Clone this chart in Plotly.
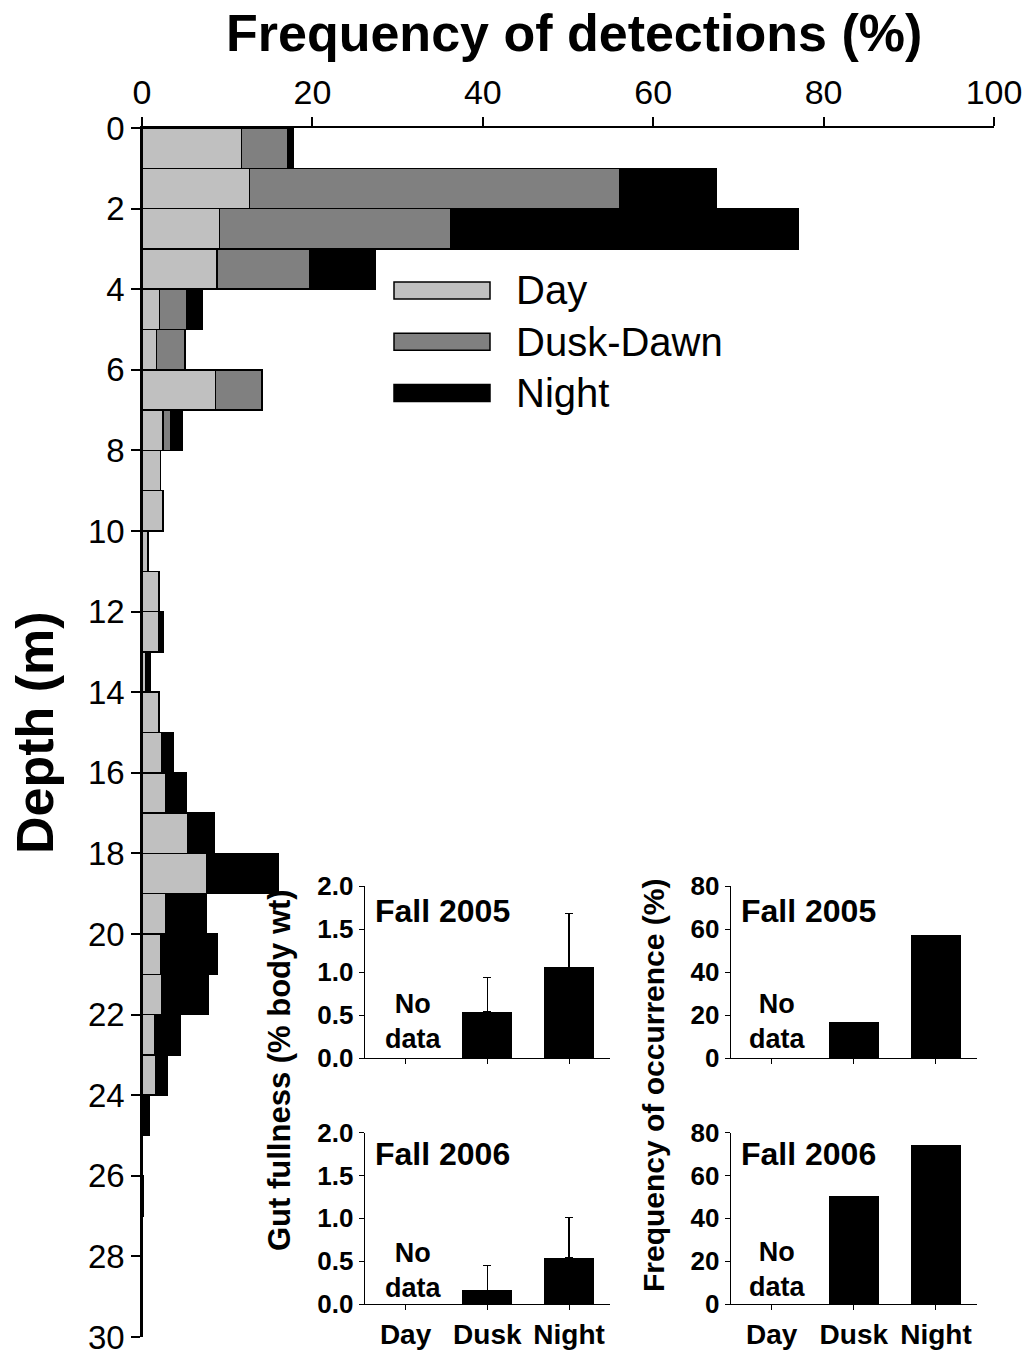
import plotly.graph_objects as go

W, H = 1027, 1354
OFF = 0

# ---------------- data ----------------
depth_bins = list(range(30))  # upper edge of each 1 m bin
day = [11.65, 12.6, 9.08, 8.8, 2.05, 1.73, 8.6, 2.46, 2.19, 2.46,
       0.7, 2.0, 2.0, 0.39, 2.0, 2.35, 2.78, 5.4, 7.59, 2.78,
       2.2, 2.35, 1.49, 1.62, 0, 0, 0, 0, 0, 0]
dusk_dawn = [5.41, 43.46, 27.12, 10.9, 3.25, 3.31, 5.47, 0.9, 0, 0,
             0, 0, 0, 0, 0, 0, 0, 0, 0, 0,
             0, 0, 0, 0, 0, 0, 0, 0, 0, 0]
night = [0.74, 11.39, 40.8, 7.7, 1.8, 0, 0, 1.34, 0, 0,
         0, 0, 0.54, 0.63, 0, 1.29, 2.42, 3.09, 8.41, 4.81,
         6.6, 5.4, 3.05, 1.33, 0.9, 0, 0.2, 0, 0, 0]
series_names = ["Day", "Dusk-Dawn", "Night"]
series_colors = ["#c0c0c0", "#808080", "#000000"]

x_ticks = [0, 20, 40, 60, 80, 100]
y_ticks = list(range(0, 31, 2))

inset_cats = ["Day", "Dusk", "Night"]
gut_2005 = [None, 0.534, 1.048]
gut_2005_err = [None, 0.40, 0.63]
gut_2006 = [None, 0.16, 0.537]
gut_2006_err = [None, 0.29, 0.47]
occ_2005 = [None, 16.7, 56.8]
occ_2006 = [None, 50.4, 74.2]

FONT = "Liberation Sans, Arial, sans-serif"


def px_x(p):
    return (p - OFF) / W


def px_y(p):
    return 1 - (p - OFF) / H


fig = go.Figure()

# ---------------- main stacked bars ----------------
ycent = [d + 0.5 for d in depth_bins]
for name, vals, col in zip(series_names, [day, dusk_dawn, night], series_colors):
    fig.add_trace(go.Bar(
        y=ycent, x=vals, orientation="h", name=name, width=1,
        marker=dict(color=col, line=dict(color="black", width=1.5)),
        xaxis="x", yaxis="y", showlegend=False,
    ))

# ---------------- insets ----------------
def inset_bar(xa, ya, vals, err=None):
    eb = None
    if err is not None:
        eb = dict(type="data", array=err, arrayminus=[0, 0, 0], symmetric=False,
                  color="black", thickness=1.3, width=4)
    fig.add_trace(go.Bar(
        x=inset_cats, y=vals, width=0.6, error_y=eb,
        marker=dict(color="black", line=dict(color="black", width=1)),
        xaxis=xa, yaxis=ya, showlegend=False,
    ))

inset_bar("x2", "y2", gut_2005, gut_2005_err)
inset_bar("x3", "y3", gut_2006, gut_2006_err)
inset_bar("x4", "y4", occ_2005)
inset_bar("x5", "y5", occ_2006)

main_xdom = [px_x(142), px_x(994)]
main_ydom = [px_y(1337), px_y(128)]
gut_xdom = [px_x(364.7), px_x(610)]
occ_xdom = [px_x(730.7), px_x(977)]
top_ydom = [px_y(1058), px_y(886)]
bot_ydom = [px_y(1304), px_y(1132.7)]

inset_tickfont = dict(family=FONT, size=26, color="black", weight="bold")

layout = dict(
    width=W, height=H,
    margin=dict(l=0, r=0, t=0, b=0, autoexpand=False),
    paper_bgcolor="white", plot_bgcolor="rgba(0,0,0,0)",
    barmode="stack",
    font=dict(family=FONT, color="black"),
    showlegend=False,
    xaxis=dict(domain=main_xdom, anchor="y", side="top", range=[0, 100],
               tickvals=x_ticks, ticks="outside", ticklen=9, tickwidth=1.5,
               tickcolor="black", showline=True, linecolor="black", linewidth=1.5,
               showgrid=False, zeroline=False, automargin=False,
               ticklabeloverflow="allow",
               tickfont=dict(family=FONT, size=34, color="black")),
    yaxis=dict(domain=main_ydom, anchor="x", range=[30, 0],
               tickvals=y_ticks, ticks="outside", ticklen=9, tickwidth=1.5,
               tickcolor="black", showline=True, linecolor="black", linewidth=1.5,
               showgrid=False, zeroline=False, automargin=False,
               ticklabeloverflow="allow",
               tickfont=dict(family=FONT, size=33, color="black")),
)


def cat_axis(dom, anchor, labels):
    return dict(domain=dom, anchor=anchor, type="category",
                categoryorder="array", categoryarray=inset_cats,
                range=[-0.5, 2.5], ticks="outside", ticklen=5, tickwidth=1,
                tickcolor="black", showline=True, linecolor="black", linewidth=1,
                showgrid=False, zeroline=False, showticklabels=labels,
                automargin=False, ticklabeloverflow="allow",
                tickfont=dict(family=FONT, size=28, color="black", weight="bold"))


def val_axis(dom, anchor, rng, dtick, fmt):
    return dict(domain=dom, anchor=anchor, range=rng, dtick=dtick, tick0=0,
                tickformat=fmt, ticks="outside", ticklen=5, tickwidth=1,
                tickcolor="black", showline=True, linecolor="black", linewidth=1,
                showgrid=False, zeroline=False, automargin=False,
                tickfont=inset_tickfont)


layout["xaxis2"] = cat_axis(gut_xdom, "y2", False)
layout["yaxis2"] = val_axis(top_ydom, "x2", [0, 2.0], 0.5, ".1f")
layout["xaxis3"] = cat_axis(gut_xdom, "y3", True)
layout["yaxis3"] = val_axis(bot_ydom, "x3", [0, 2.0], 0.5, ".1f")
layout["xaxis4"] = cat_axis(occ_xdom, "y4", False)
layout["yaxis4"] = val_axis(top_ydom, "x4", [0, 80], 20, "d")
layout["xaxis5"] = cat_axis(occ_xdom, "y5", True)
layout["yaxis5"] = val_axis(bot_ydom, "x5", [0, 80], 20, "d")

fig.update_layout(**layout)

ann = []
shapes = []


def text(t, x, y, size, xa="center", ya="middle", angle=0, align="center"):
    ann.append(dict(text=t, x=px_x(x), y=px_y(y), xref="paper", yref="paper",
                    xanchor=xa, yanchor=ya, showarrow=False, textangle=angle,
                    align=align, font=dict(family=FONT, size=size, color="black")))


# main titles
text("<b>Frequency of detections (%)</b>", 574, 33, 52)
text("<b>Depth (m)</b>", 35, 733, 52, angle=-90)

# legend (custom, large swatches)
for i, (name, col) in enumerate(zip(series_names, series_colors)):
    yc = 290.5 + i * 51.3
    shapes.append(dict(type="rect", xref="paper", yref="paper",
                       x0=px_x(394), x1=px_x(490), y0=px_y(yc - 8.5), y1=px_y(yc + 8.5),
                       fillcolor=col, line=dict(color="black", width=1.5)))
    text(name, 514, yc, 40, xa="left")

# inset y titles
text("<b>Gut fullness (% body wt)</b>", 279, 1070, 31, angle=-90)
text("<b>Frequency of occurrence (%)</b>", 653, 1086, 30, angle=-90)

# inset labels
for (xl, yc, label) in [(373, 911, "Fall 2005"), (373, 1154, "Fall 2006"),
                        (739, 911, "Fall 2005"), (739, 1154, "Fall 2006")]:
    text("<b>%s</b>" % label, xl, yc, 32, xa="left")

for (xc, yc) in [(413, 1021), (413, 1270), (777, 1021), (777, 1269)]:
    text("<b>No<br>data</b>", xc, yc, 27)

fig.update_layout(annotations=ann, shapes=shapes)

# remove the page's default 8 px body margin so the figure fills the window exactly
fig.write_html("out.html",
               config={"displayModeBar": False},
               post_script="document.body.style.margin='0px';"
                           "document.body.style.overflow='hidden';")
